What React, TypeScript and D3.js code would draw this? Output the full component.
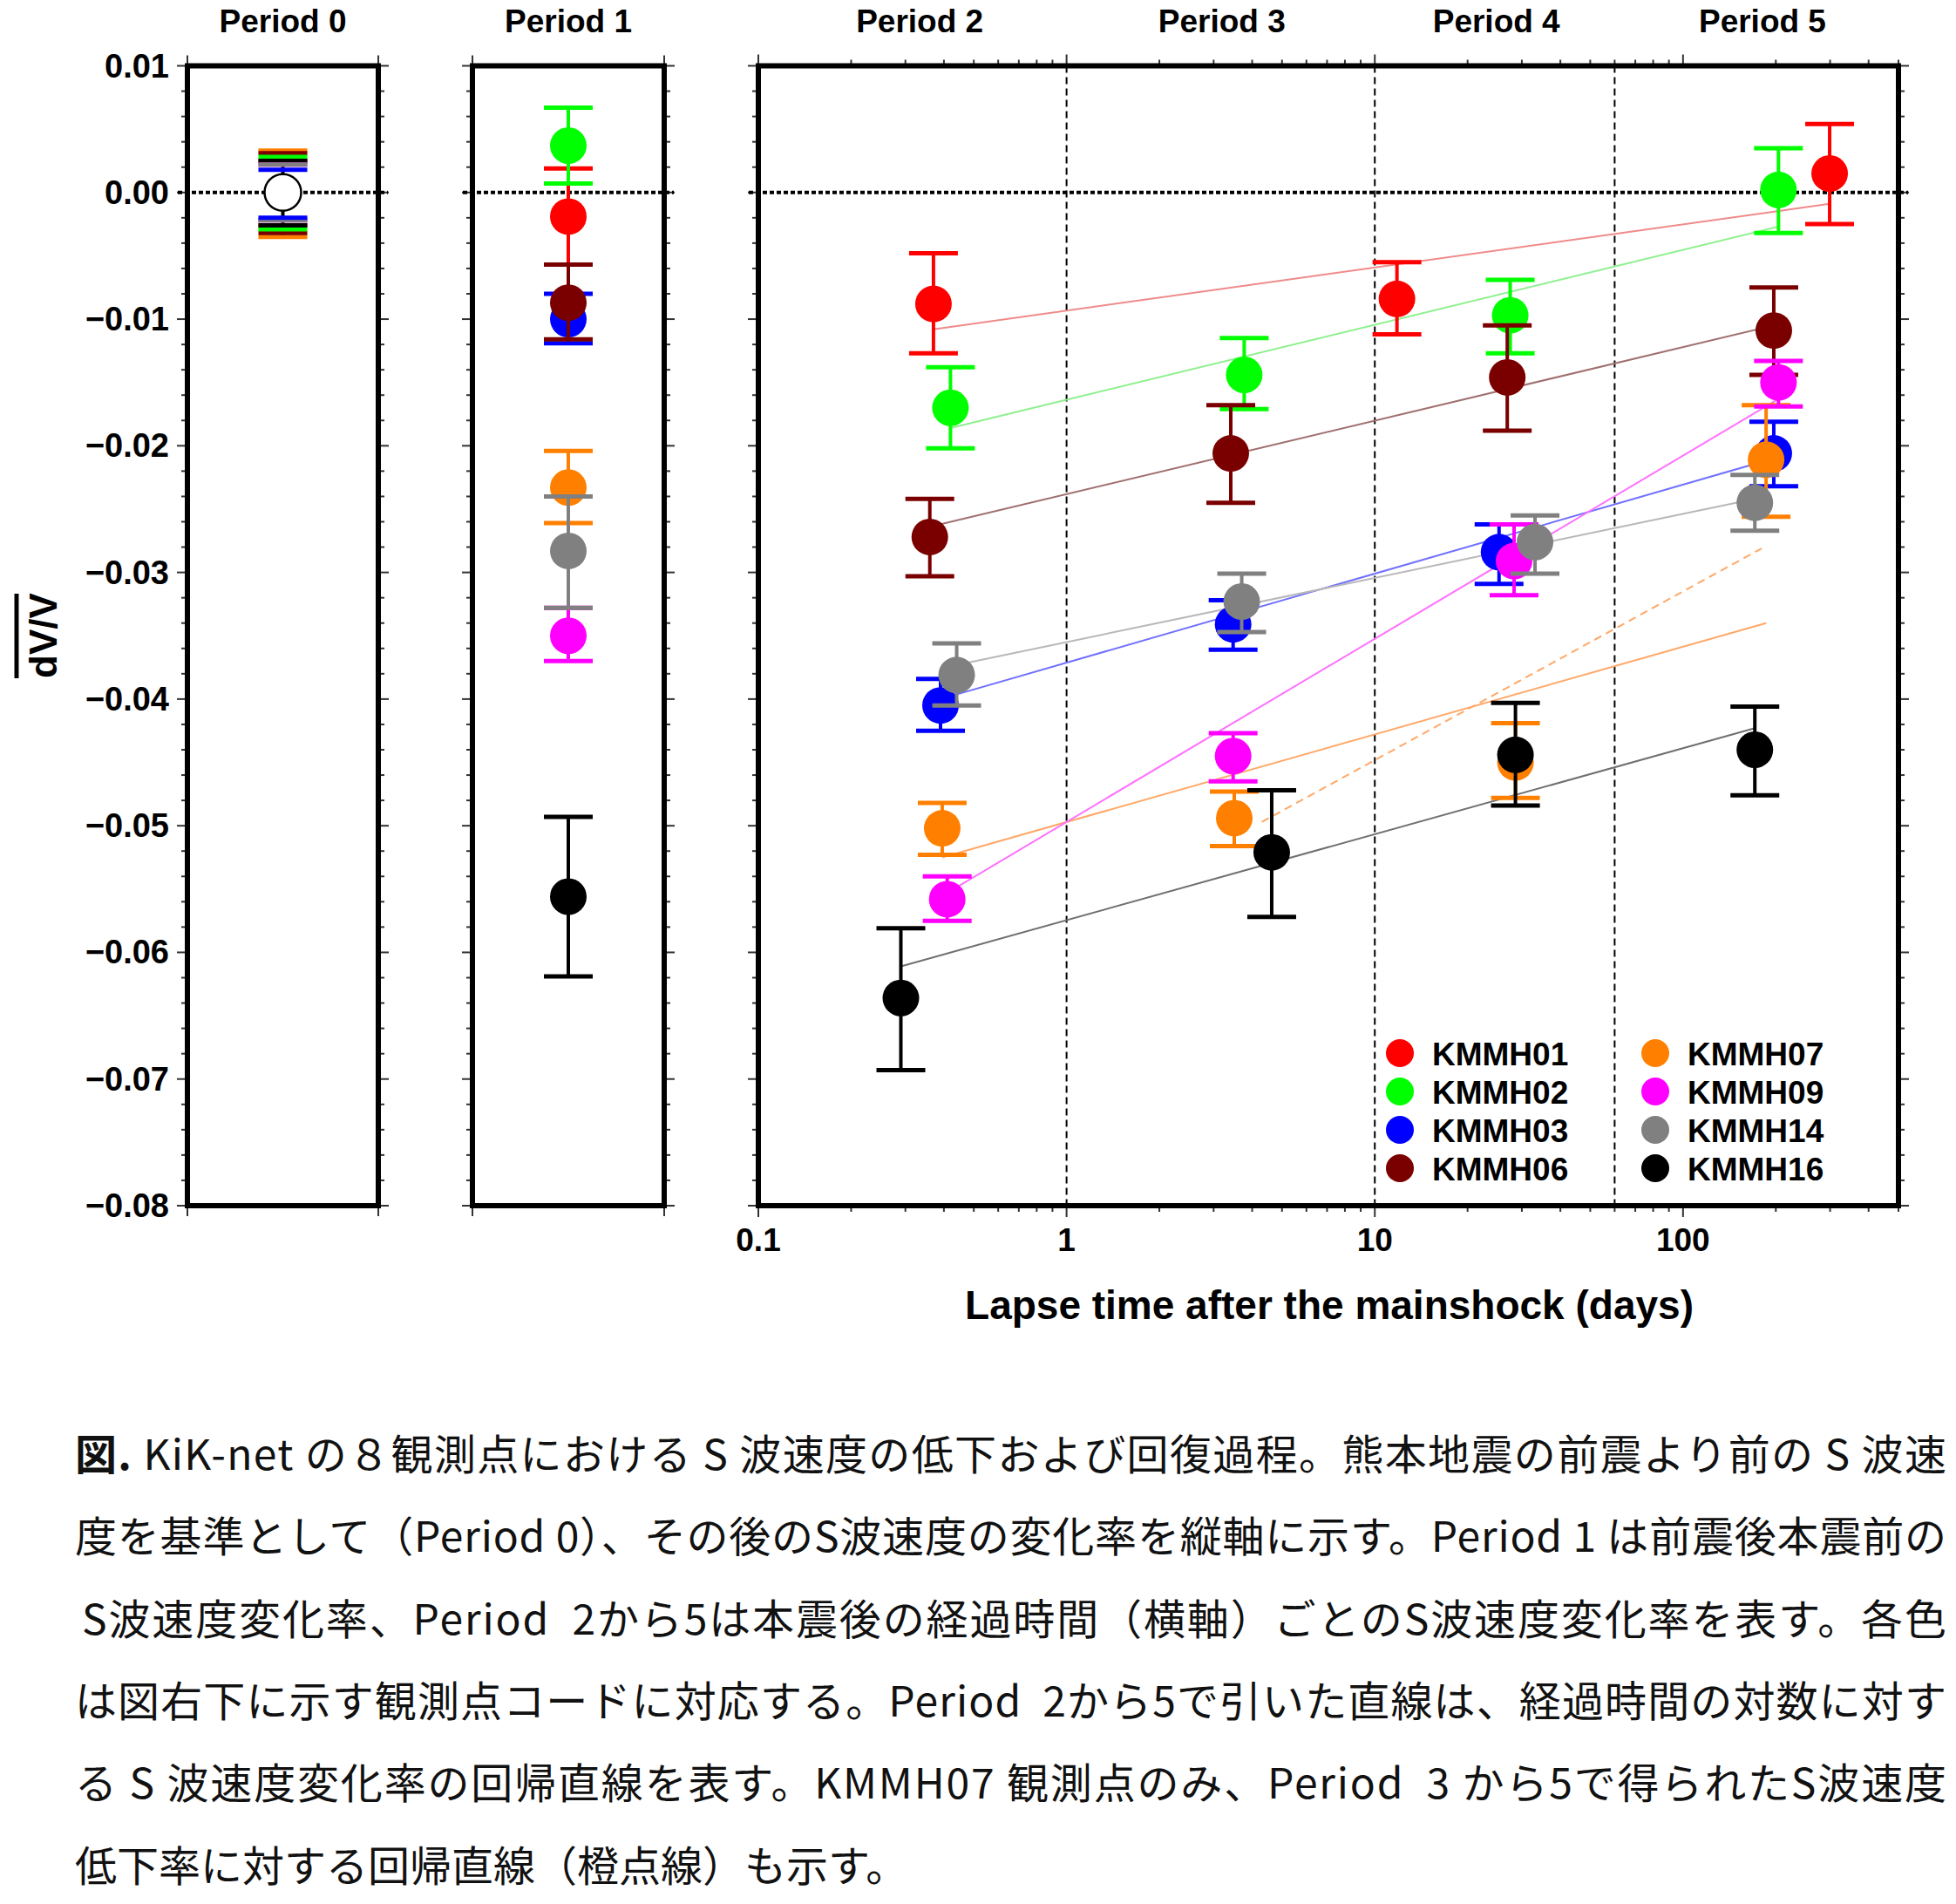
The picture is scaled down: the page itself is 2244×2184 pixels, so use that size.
import React from 'react';
import * as d3 from 'd3';

// ---------------- data ----------------
const stations = ['KMMH01', 'KMMH02', 'KMMH03', 'KMMH06', 'KMMH07', 'KMMH09', 'KMMH14', 'KMMH16'];
const stationColors = ['#ff0000', '#00ff00', '#0000ff', '#7a0000', '#ff8000', '#ff00ff', '#808080', '#000000'];
const fitColors = ['#f08a8a', '#8ef08e', '#7070ff', '#a07070', '#ffa868', '#ff70ff', '#b8b8b8', '#707070'];

const periodTitles = ['Period 0', 'Period 1', 'Period 2', 'Period 3', 'Period 4', 'Period 5'];
// title anchor positions (days) for Period 2-5 on the log axis
const periodTitleDays = [0.334, 3.19, 24.8, 181];
const boundaryLines = [1, 10, 60];

const yTickValues = [0.01, 0, -0.01, -0.02, -0.03, -0.04, -0.05, -0.06, -0.07, -0.08];
const yTickLabels = ['0.01', '0.00', '\u22120.01', '\u22120.02', '\u22120.03', '\u22120.04', '\u22120.05', '\u22120.06', '\u22120.07', '\u22120.08'];
const xTickValues = [0.1, 1, 10, 100];
const xTickLabels = ['0.1', '1', '10', '100'];

// Period 0 (reference): error half-widths (upper / lower)
const p0Upper = [0.0025, 0.0028, 0.0018, 0.0031, 0.0033, 0.0022, 0.0022, 0.0025];
const p0Lower = [0.0026, 0.0029, 0.0020, 0.0032, 0.0035, 0.0022, 0.0022, 0.0026];

// Period 1
const p1Value = [-0.0019, 0.0037, -0.0100, -0.0087, -0.0233, -0.0350, -0.0283, -0.0556];
const p1Upper = [0.0019, 0.0067, -0.0080, -0.0057, -0.0204, -0.0328, -0.0240, -0.0493];
const p1Lower = [-0.0057, 0.0007, -0.0119, -0.0116, -0.0261, -0.0370, -0.0328, -0.0619];

// Period 2
const p2Time = [0.37, 0.42, 0.39, 0.36, 0.395, 0.41, 0.44, 0.29];
const p2Value = [-0.0088, -0.0170, -0.0405, -0.0272, -0.0502, -0.0558, -0.0381, -0.0636];
const p2Upper = [-0.0048, -0.0138, -0.0384, -0.0242, -0.0482, -0.0540, -0.0356, -0.0581];
const p2Lower = [-0.0127, -0.0202, -0.0425, -0.0303, -0.0523, -0.0575, -0.0405, -0.0693];

// Period 3 (no KMMH01)
const p3Time = [null, 3.77, 3.47, 3.41, 3.5, 3.47, 3.7, 4.63];
const p3Value = [null, -0.0144, -0.0341, -0.0206, -0.0494, -0.0445, -0.0323, -0.0521];
const p3Upper = [null, -0.0115, -0.0322, -0.0168, -0.0473, -0.0427, -0.0301, -0.0472];
const p3Lower = [null, -0.0171, -0.0361, -0.0245, -0.0516, -0.0465, -0.0347, -0.0572];

// Period 4
const p4Time = [11.8, 27.5, 25.3, 26.9, 28.6, 28.3, 33.1, 28.6];
const p4Value = [-0.0084, -0.0097, -0.0284, -0.0146, -0.0450, -0.0291, -0.0276, -0.0444];
const p4Upper = [-0.0055, -0.0069, -0.0262, -0.0105, -0.0419, -0.0262, -0.0255, -0.0403];
const p4Lower = [-0.0112, -0.0127, -0.0309, -0.0188, -0.0478, -0.0318, -0.0301, -0.0484];

// Period 5
const p5Time = [299, 204, 197, 197, 186, 204, 171, 171];
const p5Value = [0.0015, 0.0002, -0.0206, -0.0109, -0.0211, -0.0150, -0.0245, -0.0440];
const p5Upper = [0.0054, 0.0035, -0.0181, -0.0075, -0.0168, -0.0133, -0.0223, -0.0406];
const p5Lower = [-0.0025, -0.0032, -0.0232, -0.0144, -0.0256, -0.0169, -0.0267, -0.0476];

// Regression lines (Period 2-5): start time, start value, end time, end value
const fitStartTime = [0.37, 0.42, 0.39, 0.36, 0.395, 0.41, 0.44, 0.29];
const fitStartValue = [-0.0108, -0.0186, -0.0400, -0.0264, -0.0525, -0.0553, -0.0373, -0.0611];
const fitEndTime = [299, 204, 197, 197, 186, 204, 171, 171];
const fitEndValue = [-0.0009, -0.0027, -0.0210, -0.0105, -0.0340, -0.0163, -0.0242, -0.0423];
// KMMH07 Period 3-5 regression (orange dashed)
const fit07Time = [4.3, 180];
const fit07Value = [-0.0497, -0.0281];

const captionBold = '図.';
const captionLines = [
  ' KiK-net の８観測点における S 波速度の低下および回復過程。熊本地震の前震より前の S 波速',
  '度を基準として（Period 0）、その後のS波速度の変化率を縦軸に示す。Period 1 は前震後本震前の',
  'S波速度変化率、Period  2から5は本震後の経過時間（横軸）ごとのS波速度変化率を表す。各色',
  'は図右下に示す観測点コードに対応する。Period  2から5で引いた直線は、経過時間の対数に対す',
  'る S 波速度変化率の回帰直線を表す。KMMH07 観測点のみ、Period  3 から5で得られたS波速度',
  '低下率に対する回帰直線（橙点線）も示す。',
];

// ---------------- layout ----------------
const W = 2244;
const H = 2184;
const TOP = 75.5;
const BOTTOM = 1383;
const smallPanels = [
  { x0: 215, x1: 434 },
  { x0: 542, x1: 762 },
];
const MAIN_X0 = 870;
const MAIN_X1 = 2178;
const R = 21;
const CAP = 28;
const FONT = '"Liberation Sans", Arial, Helvetica, sans-serif';
const JFONT = '"Noto Sans CJK JP", "Noto Sans CJK SC", sans-serif';

function ErrMarker({ cx, v, hi, lo, color }: { cx: number; v: number; hi: number; lo: number; color: string }) {
  return (
    <g>
      <line x1={cx} x2={cx} y1={hi} y2={lo} stroke={color} strokeWidth={4} />
      <line x1={cx - CAP} x2={cx + CAP} y1={hi} y2={hi} stroke={color} strokeWidth={5} />
      <line x1={cx - CAP} x2={cx + CAP} y1={lo} y2={lo} stroke={color} strokeWidth={5} />
      <circle cx={cx} cy={v} r={R} fill={color} />
    </g>
  );
}

export default function App() {
  const y = d3.scaleLinear().domain([-0.08, 0.01]).range([BOTTOM, TOP]);
  const x = d3.scaleLog().domain([0.1, 500]).range([MAIN_X0, MAIN_X1]);
  const smallX = smallPanels.map((p) => d3.scaleLinear().domain([0, 1]).range([p.x0, p.x1]));

  const yMinor = y.ticks(45);
  const isMajorY = (v: number) => Math.abs(v * 100 - Math.round(v * 100)) < 1e-6;
  const xAll = x.ticks();
  const isMajorX = (v: number) => Math.abs(Math.log10(v) - Math.round(Math.log10(v))) < 1e-6;

  const periods = [
    { t: p2Time, v: p2Value, hi: p2Upper, lo: p2Lower },
    { t: p3Time, v: p3Value, hi: p3Upper, lo: p3Lower },
    { t: p4Time, v: p4Value, hi: p4Upper, lo: p4Lower },
    { t: p5Time, v: p5Value, hi: p5Upper, lo: p5Lower },
  ];

  const line = d3.line<[number, number]>().x((d) => x(d[0])).y((d) => y(d[1]));

  const yAxisTicks = (xEdge: number, dir: number, key: string) =>
    yMinor.map((v, i) => (
      <line
        key={key + i}
        x1={xEdge}
        x2={xEdge + dir * (isMajorY(v) ? 12 : 7)}
        y1={y(v)}
        y2={y(v)}
        stroke="#333"
        strokeWidth={2}
      />
    ));

  const allPanels = [
    ...smallPanels.map((p) => ({ x0: p.x0, x1: p.x1 })),
    { x0: MAIN_X0, x1: MAIN_X1 },
  ];

  return (
    <svg
      width={W}
      height={H}
      viewBox={`0 0 ${W} ${H}`}
      style={{ position: 'absolute', left: 0, top: 0, background: '#fff', display: 'block' }}
    >
      <rect x={0} y={0} width={W} height={H} fill="#fff" />

      {/* period titles */}
      {smallPanels.map((p, i) => (
        <text key={'pt' + i} x={smallX[i](0.5)} y={37} textAnchor="middle" fontFamily={FONT} fontWeight="bold" fontSize={37}>
          {periodTitles[i]}
        </text>
      ))}
      {periodTitleDays.map((d, i) => (
        <text key={'pm' + i} x={x(d)} y={37} textAnchor="middle" fontFamily={FONT} fontWeight="bold" fontSize={37}>
          {periodTitles[i + 2]}
        </text>
      ))}

      {/* y tick labels */}
      {yTickValues.map((v, i) => (
        <text key={'yl' + i} x={194} y={y(v) + 13} textAnchor="end" fontFamily={FONT} fontWeight="bold" fontSize={38}>
          {yTickLabels[i]}
        </text>
      ))}

      {/* y axis label */}
      <text transform="translate(65,729) rotate(-90)" textAnchor="middle" fontFamily={FONT} fontWeight="bold" fontSize={44}>
        dV/V
      </text>
      <line x1={19} x2={19} y1={681} y2={778} stroke="#000" strokeWidth={5} />

      {/* y ticks on all panels */}
      {allPanels.map((p, i) => (
        <g key={'yt' + i}>
          {yAxisTicks(p.x0, -1, 'l' + i)}
          {yAxisTicks(p.x1, 1, 'r' + i)}
        </g>
      ))}

      {/* corner ticks on small panels */}
      {smallPanels.map((p, i) => (
        <g key={'ct' + i} stroke="#333" strokeWidth={2}>
          <line x1={p.x0} x2={p.x0} y1={BOTTOM} y2={BOTTOM + 12} />
          <line x1={p.x1} x2={p.x1} y1={BOTTOM} y2={BOTTOM + 12} />
          <line x1={p.x0} x2={p.x0} y1={TOP} y2={TOP - 12} />
          <line x1={p.x1} x2={p.x1} y1={TOP} y2={TOP - 12} />
        </g>
      ))}

      {/* x ticks on main panel */}
      {xAll.map((v, i) => (
        <g key={'xt' + i} stroke="#333" strokeWidth={2}>
          <line x1={x(v)} x2={x(v)} y1={BOTTOM} y2={BOTTOM + (isMajorX(v) ? 13 : 7)} />
          <line x1={x(v)} x2={x(v)} y1={TOP} y2={TOP - (isMajorX(v) ? 13 : 7)} />
        </g>
      ))}
      {xTickValues.map((v, i) => (
        <text key={'xl' + i} x={x(v)} y={1435} textAnchor="middle" fontFamily={FONT} fontWeight="bold" fontSize={37}>
          {xTickLabels[i]}
        </text>
      ))}
      <text x={1525} y={1513} textAnchor="middle" fontFamily={FONT} fontWeight="bold" fontSize={46}>
        Lapse time after the mainshock (days)
      </text>

      {/* period boundaries */}
      {boundaryLines.map((b, i) => (
        <line key={'bl' + i} x1={x(b)} x2={x(b)} y1={TOP} y2={BOTTOM} stroke="#000" strokeWidth={2} strokeDasharray="8 5" />
      ))}

      {/* zero lines */}
      {allPanels.map((p, i) => (
        <line
          key={'z' + i}
          x1={p.x0 - 11}
          x2={p.x1 + 11}
          y1={y(0)}
          y2={y(0)}
          stroke="#000"
          strokeWidth={4}
          strokeDasharray="5 3"
        />
      ))}

      {/* Period 0 */}
      <g>
        <line
          x1={smallX[0](0.5)}
          x2={smallX[0](0.5)}
          y1={y(d3.max(p0Upper) as number)}
          y2={y(-(d3.max(p0Lower) as number))}
          stroke="#000"
          strokeWidth={4}
        />
        {d3
          .range(stations.length)
          .sort((a, b) => p0Upper[b] - p0Upper[a] || a - b)
          .map((i) => (
            <line
              key={'p0u' + i}
              x1={smallX[0](0.5) - CAP}
              x2={smallX[0](0.5) + CAP}
              y1={y(p0Upper[i])}
              y2={y(p0Upper[i])}
              stroke={stationColors[i]}
              strokeWidth={5}
            />
          ))}
        {d3
          .range(stations.length)
          .sort((a, b) => p0Lower[b] - p0Lower[a] || a - b)
          .map((i) => (
            <line
              key={'p0l' + i}
              x1={smallX[0](0.5) - CAP}
              x2={smallX[0](0.5) + CAP}
              y1={y(-p0Lower[i])}
              y2={y(-p0Lower[i])}
              stroke={stationColors[i]}
              strokeWidth={5}
            />
          ))}
        <circle cx={smallX[0](0.5)} cy={y(0)} r={R} fill="#fff" stroke="#000" strokeWidth={2.5} />
      </g>

      {/* Period 1 */}
      {stations.map((s, i) => (
        <ErrMarker
          key={'p1' + s}
          cx={smallX[1](0.5)}
          v={y(p1Value[i])}
          hi={y(p1Upper[i])}
          lo={y(p1Lower[i])}
          color={stationColors[i]}
        />
      ))}

      {/* regression lines */}
      {stations.map((s, i) => (
        <path
          key={'fit' + s}
          d={line([
            [fitStartTime[i], fitStartValue[i]],
            [fitEndTime[i], fitEndValue[i]],
          ]) as string}
          fill="none"
          stroke={fitColors[i]}
          strokeWidth={2}
        />
      ))}
      <path
        d={line([
          [fit07Time[0], fit07Value[0]],
          [fit07Time[1], fit07Value[1]],
        ]) as string}
        fill="none"
        stroke={fitColors[4]}
        strokeWidth={2}
        strokeDasharray="9 6"
      />

      {/* Periods 2-5 */}
      {stations.map((s, i) => (
        <g key={'m' + s}>
          {periods.map((p, k) =>
            p.t[i] == null ? null : (
              <ErrMarker
                key={k}
                cx={x(p.t[i] as number)}
                v={y(p.v[i] as number)}
                hi={y(p.hi[i] as number)}
                lo={y(p.lo[i] as number)}
                color={stationColors[i]}
              />
            )
          )}
        </g>
      ))}

      {/* legend */}
      {stations.map((s, i) => {
        const col = Math.floor(i / 4);
        const row = i % 4;
        const cx = col === 0 ? 1606 : 1899;
        const cy = 1208 + row * 44;
        return (
          <g key={'lg' + s}>
            <circle cx={cx} cy={cy} r={16} fill={stationColors[i]} />
            <text x={cx + 37} y={cy + 14} fontFamily={FONT} fontWeight="bold" fontSize={37}>
              {s}
            </text>
          </g>
        );
      })}

      {/* panel boxes */}
      {allPanels.map((p, i) => (
        <rect key={'box' + i} x={p.x0} y={TOP} width={p.x1 - p.x0} height={BOTTOM - TOP} fill="none" stroke="#000" strokeWidth={6} />
      ))}

      {/* caption */}
      {captionLines.map((ln, i) => {
        const justify = i < 5;
        const x0 = i === 2 ? 94 : 86;
        return (
          <text
            key={'cap' + i}
            x={x0}
            y={1686 + i * 94.3}
            fontFamily={JFONT}
            fontSize={48}
            fill="#111"
            style={{ whiteSpace: 'pre' }}
            textLength={justify ? 2233 - x0 : undefined}
            lengthAdjust={justify ? 'spacing' : undefined}
          >
            {i === 0 ? <tspan fontWeight="bold">{captionBold}</tspan> : null}
            {i === 0 ? <tspan>{ln}</tspan> : ln}
          </text>
        );
      })}
    </svg>
  );
}
